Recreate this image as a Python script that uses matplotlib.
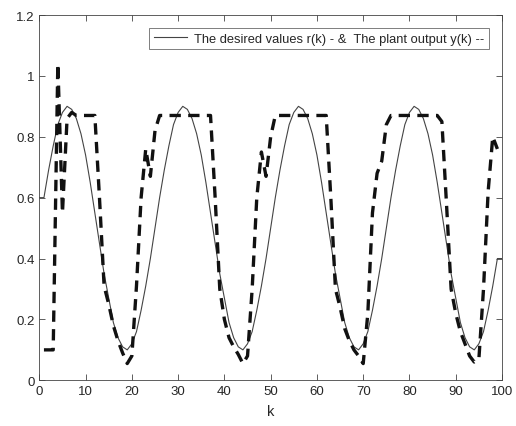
import numpy as np
import matplotlib.pyplot as plt

# ------------------------------
# data
# ------------------------------
# desired values r(k), k = 0..100
k_r = np.arange(0, 101)
r = [0.60,
     0.60, 0.69, 0.77, 0.84, 0.88, 0.90, 0.89, 0.86, 0.81, 0.74,
     0.65, 0.55, 0.45, 0.35, 0.27, 0.19, 0.14, 0.11, 0.10, 0.12,
     0.16, 0.23, 0.31, 0.40, 0.50, 0.60, 0.69, 0.77, 0.84, 0.88,
     0.90, 0.89, 0.86, 0.81, 0.74, 0.65, 0.55, 0.45, 0.35, 0.27,
     0.19, 0.14, 0.11, 0.10, 0.12, 0.16, 0.23, 0.31, 0.40, 0.50,
     0.60, 0.69, 0.77, 0.84, 0.88, 0.90, 0.89, 0.86, 0.81, 0.74,
     0.65, 0.55, 0.45, 0.35, 0.27, 0.19, 0.14, 0.11, 0.10, 0.12,
     0.16, 0.23, 0.31, 0.40, 0.50, 0.60, 0.69, 0.77, 0.84, 0.88,
     0.90, 0.89, 0.86, 0.81, 0.74, 0.65, 0.55, 0.45, 0.35, 0.27,
     0.19, 0.14, 0.11, 0.10, 0.12, 0.16, 0.23, 0.31, 0.40,
     0.40]

# plant output y(k), k = 1..99
k_y = np.arange(1, 100)
y = [0.10, 0.10, 0.10, 1.04, 0.55, 0.86, 0.88, 0.87, 0.87, 0.87,
     0.87, 0.87, 0.60, 0.31, 0.25, 0.18, 0.13, 0.09, 0.055, 0.08,
     0.31, 0.60, 0.76, 0.67, 0.82, 0.87, 0.87, 0.87, 0.87, 0.87,
     0.87, 0.87, 0.87, 0.87, 0.87, 0.87, 0.87, 0.60, 0.30, 0.20,
     0.14, 0.11, 0.085, 0.055, 0.08, 0.30, 0.60, 0.75, 0.67, 0.80,
     0.87, 0.87, 0.87, 0.87, 0.87, 0.87, 0.87, 0.87, 0.87, 0.87,
     0.87, 0.87, 0.60, 0.30, 0.24, 0.17, 0.13, 0.10, 0.08, 0.055,
     0.22, 0.55, 0.68, 0.72, 0.84, 0.87, 0.87, 0.87, 0.87, 0.87,
     0.87, 0.87, 0.87, 0.87, 0.87, 0.87, 0.85, 0.58, 0.30, 0.22,
     0.16, 0.12, 0.08, 0.06, 0.07, 0.30, 0.62, 0.80, 0.76]

x_ticks = np.arange(0, 101, 10)
y_ticks = [0, 0.2, 0.4, 0.6, 0.8, 1, 1.2]
y_tick_labels = ["0", "0.2", "0.4", "0.6", "0.8", "1", "1.2"]

legend_text = "The desired values r(k) - &  The plant output y(k) --"

# ------------------------------
# plot
# ------------------------------
plt.rcParams['font.family'] = ['Liberation Sans', 'DejaVu Sans']

fig = plt.figure(figsize=(5.16, 4.27), dpi=100)
ax = fig.add_axes([0.0762, 0.107, 0.8967, 0.8555])

ax.plot(k_r, r, '-', color='#444444', lw=0.8, label=legend_text)
ax.plot(k_y, y, color='#111111', lw=2.4, linestyle=(0, (3.4, 2.2)),
        dash_capstyle='butt')

ax.set_xlim(0, 100)
ax.set_ylim(0, 1.2)
ax.set_xticks(x_ticks)
ax.set_yticks(y_ticks)
ax.set_yticklabels(y_tick_labels)
ax.tick_params(direction='in', top=True, right=True, length=4,
               width=0.6, colors='#444444', labelsize=9.5,
               labelcolor='#262626')
for s in ax.spines.values():
    s.set_color('#444444')
    s.set_linewidth(0.6)
ax.set_xlabel("k", fontsize=10.5, color='#262626', labelpad=5)

leg = ax.legend(loc='upper right', bbox_to_anchor=(0.971, 0.964),
                borderaxespad=0, fontsize=9.3, frameon=True,
                fancybox=False, handlelength=2.6, borderpad=0.35,
                handletextpad=0.5)
leg.get_frame().set_edgecolor('#444444')
leg.get_frame().set_linewidth(0.6)
for t in leg.get_texts():
    t.set_color('#262626')

fig.savefig("out.png", dpi=100)
